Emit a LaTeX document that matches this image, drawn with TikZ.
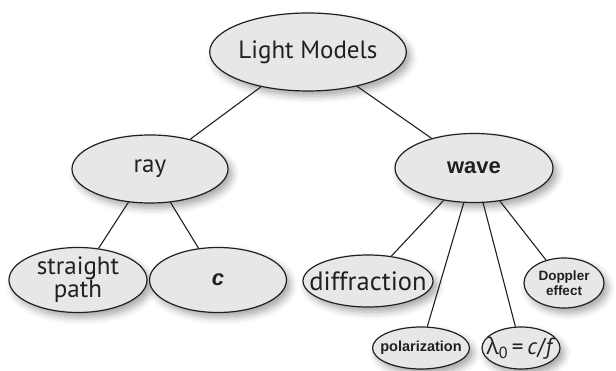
\documentclass[tikz,border=0pt]{standalone}
\usepackage{fontspec}
\setmainfont{PT Sans}
\newfontfamily\heros{Liberation Sans}
\newfontfamily\greekfont{Open Sans}
\usetikzlibrary{shapes.geometric,shadows.blur}
\definecolor{bubblegray}{RGB}{230,231,232}
\definecolor{inkgray}{RGB}{35,31,32}

\begin{document}
\begin{tikzpicture}[
      x=1pt,y=-1pt,
      bubble/.style={ellipse, draw=inkgray, line width=1.2pt, fill=bubblegray, inner sep=0pt,
        text=inkgray, align=center, font=\fontsize{25}{25}\selectfont,
        blur shadow={shadow xshift=4pt, shadow yshift=-5pt, shadow blur radius=7pt, shadow opacity=35}},
      bold/.style={font=\heros\bfseries\fontsize{22}{22}\selectfont},
      small/.style={font=\heros\bfseries\fontsize{14.5}{15}\selectfont},
      link/.style={draw=inkgray, line width=1.1pt}
    ]
      \useasboundingbox (0,0) rectangle (616,371);
      \node[bubble, minimum width=186, minimum height=78] (lm) at (308,52) {Light Models};
      \node[bubble, minimum width=156, minimum height=68] (ray) at (150,169) {ray};
      \node[bubble, bold, minimum width=158, minimum height=69] (wave) at (474,168) {wave};
      \node[bubble, minimum width=138, minimum height=65, font=\fontsize{25}{23}\selectfont] (straight) at (78,280) {straight\\path};
      \node[bubble, bold, minimum width=137, minimum height=65] (cnode) at (218,280) {\itshape c};
      \node[bubble, minimum width=130, minimum height=52, inner xsep=-16pt, font=\fontsize{26.5}{26}\selectfont] (diff) at (368,281) {diffraction};
      \node[bubble, small, minimum width=80, minimum height=50, font=\heros\bfseries\fontsize{13.5}{15}\selectfont] (doppler) at (564,283) {Doppler\\effect};
      \node[bubble, small, minimum width=97, minimum height=42, inner xsep=-8pt] (pol) at (421,348) {polarization};
      \node[bubble, minimum width=78, minimum height=42, inner xsep=-14pt, font=\fontsize{23}{23}\selectfont] (lam) at (521,348) {{\greekfont λ}\textsubscript{0}\,=\,\textit{c}/\textit{f}};
      \draw[link] (lm) -- (ray);
      \draw[link] (lm) -- (wave);
      \draw[link] (ray) -- (straight);
      \draw[link] (ray) -- (cnode);
      \foreach \n in {diff,pol,lam,doppler}
        \draw[link] (wave) -- (\n);
    \end{tikzpicture}
\end{document}
